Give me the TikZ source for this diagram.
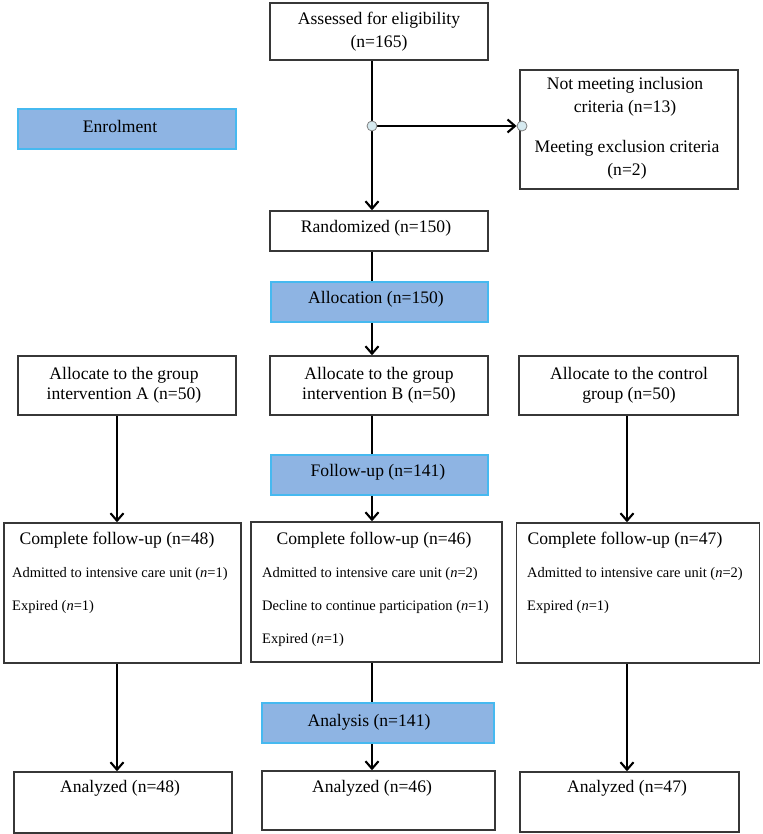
\documentclass[tikz,border=0pt]{standalone}
\usepackage{fontspec}
\setmainfont{Liberation Serif}
\usetikzlibrary{arrows.meta,calc}
\definecolor{bluefill}{RGB}{142,180,227}
\definecolor{blueline}{RGB}{70,185,240}
\definecolor{boxline}{RGB}{55,55,55}
\definecolor{dotfill}{RGB}{214,234,240}
\pgfdeclarelayer{bg}
\pgfsetlayers{bg,main}
\begin{document}
\begin{tikzpicture}[x=1pt,y=-1pt,
  box/.style={draw=boxline, line width=1.4pt, fill=white, inner sep=0pt},
  bluebox/.style={draw=blueline, line width=1.2pt, fill=bluefill, inner sep=0pt},
  lbl/.style={font=\fontsize{17.6}{23}\selectfont, align=center, inner sep=0pt},
  sub/.style={font=\fontsize{14.5}{18}\selectfont, anchor=west, inner sep=0pt},
  conn/.style={line width=2.1pt, draw=black},
  arr/.style={conn, -{Straight Barb[length=7.5pt,width=13pt]}},
  dot/.style={circle, draw=gray, fill=dotfill, minimum size=10pt, inner sep=0pt, line width=0.8pt}]
\useasboundingbox (0,0) rectangle (762,834);

% column coordinates
\coordinate (colA) at (117,0);
\coordinate (colB) at (372,0);
\coordinate (colC) at (627,0);

% boxes
\node[box, minimum width=218pt, minimum height=57pt] (assess) at (379,31.5) {};
\node[box, minimum width=218pt, minimum height=119pt] (excl) at (629,129.5) {};
\node[bluebox, minimum width=218pt, minimum height=40pt] (enrol) at (127,129) {};
\node[box, minimum width=218pt, minimum height=40pt] (rand) at (379,231) {};
\node[bluebox, minimum width=217pt, minimum height=40pt] (alloc) at (379.5,302) {};
\node[box, minimum width=218pt, minimum height=59pt] (allocA) at (127,385.5) {};
\node[box, minimum width=218pt, minimum height=59pt] (allocB) at (379,385.5) {};
\node[box, minimum width=219pt, minimum height=59pt] (allocC) at (628.5,385.5) {};
\node[bluebox, minimum width=217pt, minimum height=40pt] (follow) at (379.5,475) {};
\node[box, minimum width=237pt, minimum height=140pt] (compA) at (122.5,593) {};
\node[box, minimum width=251pt, minimum height=140pt] (compB) at (376.5,592) {};
\node[box, minimum width=243pt, minimum height=140pt] (compC) at (638,593) {};
\node[bluebox, minimum width=232pt, minimum height=40pt] (analysis) at (378,723) {};
\node[box, minimum width=218pt, minimum height=61pt] (anA) at (123,802.5) {};
\node[box, minimum width=233pt, minimum height=59pt] (anB) at (378.5,800.5) {};
\node[box, minimum width=219pt, minimum height=60pt] (anC) at (629.5,802) {};

% texts
\node[lbl] (tassess) at (379,31.5) {Assessed for eligibility\\(n=165)};
\node[lbl] (texcl1) at (625,97) {Not meeting inclusion\\criteria (n=13)};
\node[lbl] (texcl2) at (627,160) {Meeting exclusion criteria\\(n=2)};
\node[lbl] (tenrol) at (120,126) {Enrolment};
\node[lbl] (trand) at (376,228) {Randomized (n=150)};
\node[lbl] (talloc) at (376,299) {Allocation (n=150)};
\node[lbl, font=\fontsize{17.6}{20}\selectfont] (tallocA) at (124,385) {Allocate to the group\\intervention A (n=50)};
\node[lbl, font=\fontsize{17.6}{20}\selectfont] (tallocB) at (379,385) {Allocate to the group\\intervention B (n=50)};
\node[lbl, font=\fontsize{17.6}{20}\selectfont] (tallocC) at (629,385) {Allocate to the control\\group (n=50)};
\node[lbl] (tfollow) at (378,472) {Follow-up (n=141)};
\node[lbl] (tcompA) at (117,540) {Complete follow-up (n=48)};
\node[lbl] (tcompB) at (374,540) {Complete follow-up (n=46)};
\node[lbl] (tcompC) at (625,540) {Complete follow-up (n=47)};
\node[sub] (sA1) at (12,574) {Admitted to intensive care unit (\textit{n}=1)};
\node[sub] (sA2) at (12,607) {Expired (\textit{n}=1)};
\node[sub] (sB1) at (262,574) {Admitted to intensive care unit (\textit{n}=2)};
\node[sub] (sB2) at (262,607) {Decline to continue participation (\textit{n}=1)};
\node[sub] (sB3) at (262,640) {Expired (\textit{n}=1)};
\node[sub] (sC1) at (527,574) {Admitted to intensive care unit (\textit{n}=2)};
\node[sub] (sC2) at (527,607) {Expired (\textit{n}=1)};
\node[lbl] (tanalysis) at (369,722) {Analysis (n=141)};
\node[lbl] (tanA) at (120,788) {Analyzed (n=48)};
\node[lbl] (tanB) at (372,788) {Analyzed (n=46)};
\node[lbl] (tanC) at (627,788) {Analyzed (n=47)};

% junction dots
\node[dot] (d1) at (372,126) {};
\node[dot] (d2) at (522,126) {};

% connectors
\begin{pgfonlayer}{bg}
\draw[arr] (assess.south -| colB) -- (rand.north -| colB);
\draw[arr] (d1.center) -- (d2.west);
\draw[conn] (rand.south -| colB) -- (alloc.north -| colB);
\draw[arr] (alloc.south -| colB) -- (allocB.north -| colB);
\draw[arr] (allocA.south -| colA) -- (compA.north -| colA);
\draw[conn] (allocB.south -| colB) -- (follow.north -| colB);
\draw[arr] (follow.south -| colB) -- (compB.north -| colB);
\draw[arr] (allocC.south -| colC) -- (compC.north -| colC);
\draw[arr] (compA.south -| colA) -- (anA.north -| colA);
\draw[conn] (compB.south -| colB) -- (analysis.north -| colB);
\draw[arr] (analysis.south -| colB) -- (anB.north -| colB);
\draw[arr] (compC.south -| colC) -- (anC.north -| colC);
\end{pgfonlayer}
\end{tikzpicture}
\end{document}
